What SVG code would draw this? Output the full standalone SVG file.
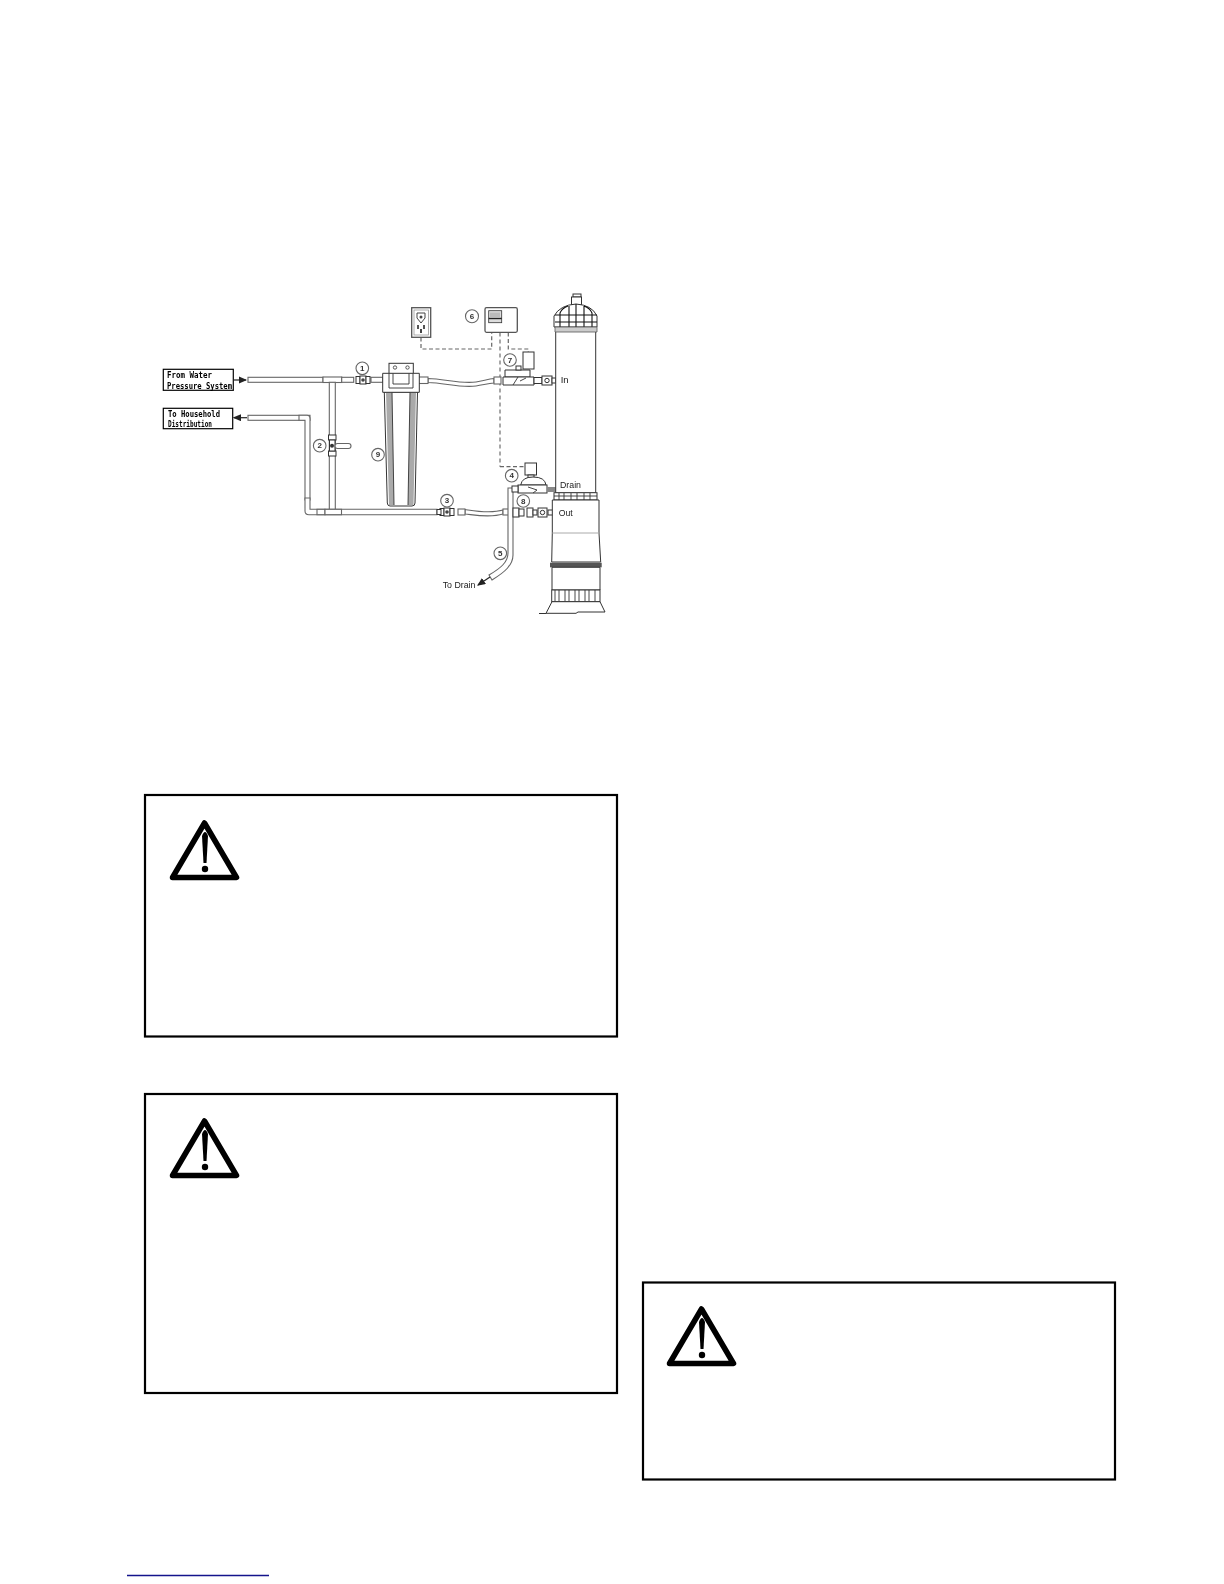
<svg xmlns="http://www.w3.org/2000/svg" xmlns:xlink="http://www.w3.org/1999/xlink" width="1224" height="1584" viewBox="0 0 1224 1584">
<style>
.p{fill:#fff;stroke:#666;stroke-width:1.1}
.d{fill:#fff;stroke:#333;stroke-width:1}
.l{fill:none;stroke:#333;stroke-width:.9}
.g{fill:#aaa;stroke:none}
.c{fill:#fff;stroke:#666;stroke-width:1.100}
.n{font:bold 8px "Liberation Sans",sans-serif;fill:#333;text-anchor:middle}
.lb{font:bold 9px "DejaVu Sans Mono",monospace;fill:#000}
.t{font:9.500px "Liberation Sans",sans-serif;fill:#222}
.dash{fill:none;stroke:#666;stroke-width:1.200;stroke-dasharray:4 2.500}
.dash2{fill:none;stroke:#999;stroke-width:1.700;stroke-dasharray:4 3}
.box{fill:#fff;stroke:#000;stroke-width:2.200}
.tri{fill:#fff;stroke:#000;stroke-width:5.500;stroke-linejoin:round}
</style>
<defs>
<filter id="soft" x="-2%" y="-2%" width="104%" height="104%"><feGaussianBlur stdDeviation="0.35"/></filter>
<marker id="ah" markerWidth="7" markerHeight="6" refX="6" refY="3" orient="auto"><path d="M0 0L7 3L0 6Z" fill="#222"/></marker>
<g id="warn">
<path class="tri" d="M204.500 823L236.500 877.500H172.500Z"/>
<path d="M202 836Q205 828 208 836L206.500 863H203.500Z" fill="#000"/>
<circle cx="205" cy="869" r="3.200" fill="#000"/>
</g>
<g id="union">
<rect class="d" x="-7" y="-3.500" width="4" height="7"/>
<rect class="d" x="-3" y="-4" width="6" height="8" fill="#ccc"/>
<circle cx="0" cy="0" r="1.800" fill="#444"/>
<rect class="d" x="3" y="-3.500" width="4" height="7"/>
</g>
</defs>
<rect width="1224" height="1584" fill="#fff"/>

<g id="diagram" filter="url(#soft)">
<g id="connectors">
<path class="dash" d="M421 337.500V349H491.700V332.500"/>
<path class="dash2" d="M500 332.500V466.700"/>
<path class="dash" d="M500 466.700H525"/>
<path class="dash" d="M508.300 332.500V349H528.300V352"/>
<path d="M234 380H246" fill="none" stroke="#222" stroke-width="1.200" marker-end="url(#ah)"/>
<path d="M247 417.700H234" fill="none" stroke="#222" stroke-width="1.200" marker-end="url(#ah)"/>
</g>

<g id="pipes">
<rect class="p" x="248" y="377.300" width="75" height="5"/>
<rect class="p" x="323" y="377" width="18.700" height="5.500"/>
<rect class="p" x="341.700" y="377.300" width="12" height="5"/>
<rect class="p" x="371" y="377.300" width="12" height="5"/>
<rect class="p" x="329.300" y="382.300" width="6" height="128"/>
<rect class="p" x="248" y="415.300" width="62" height="5"/>
<path class="p" d="M299 415.300H307Q310 415.300 310 419V500H305V420.300H299Z"/>
<path class="p" d="M305 498V511Q305 514.700 309 514.700H437V509.300H310V498Z"/>
<rect class="p" x="317" y="509.300" width="8" height="5.400"/>
<rect class="p" x="325" y="509.300" width="16.500" height="5.400"/>
<path class="p" d="M428 378.500C445 379 460 384 476 382C483 381 488 379 494 378.500V383C488 383.500 483 385 476 386C460 388 445 383 428 382.500Z"/>
<rect class="p" x="418" y="377" width="10" height="6.500"/>
<rect class="p" x="494" y="377" width="7" height="7"/>
<path class="p" d="M465 509.500C475 511 490 514 503 510V514C490 518 475 515 465 514Z"/>
<rect class="p" x="458" y="509" width="7" height="6"/>
<rect class="p" x="503" y="509" width="7" height="6"/>
<path class="p" d="M508 488H513V555C513 565 505 572 492 580L489 575C501 568 508 562 508 553Z"/>
<path d="M490 577L478 585" fill="none" stroke="#222" stroke-width="1.200" marker-end="url(#ah)"/>
</g>

<g id="valve-1"><use xlink:href="#union" x="363" y="380"/><circle class="c" cx="362.300" cy="368.300" r="6.300"/><text class="n" x="362.300" y="371">1</text></g>
<g id="valve-2">
<rect class="d" x="328.500" y="435" width="7.500" height="5"/><rect class="d" x="328.500" y="451" width="7.500" height="5"/>
<rect class="d" x="329.500" y="440" width="5.500" height="11" fill="#ccc"/>
<circle cx="332" cy="445.700" r="2" fill="#333"/>
<rect class="p" x="335" y="443.500" width="16" height="5" rx="2.500"/>
<circle class="c" cx="319.700" cy="445.700" r="6.300"/><text class="n" x="319.700" y="448.400">2</text></g>
<g id="valve-3"><use xlink:href="#union" x="447" y="512"/><rect class="d" x="437" y="509.500" width="4" height="5"/><circle class="c" cx="447" cy="500.700" r="6.300"/><text class="n" x="447" y="503.400">3</text></g>

<g id="filter-9">
<path class="d" d="M384.300 392L387.300 503Q387.500 506 390 506H412Q415 506 415 503L417.500 392Z" stroke="#555"/>
<path class="g" d="M386 392H392L394 505H389ZM410 392H416L413.500 505H408Z"/>
<path class="l" d="M392 392L394 505M410 392L408 505"/>
<rect class="d" x="389" y="363.300" width="24.300" height="11"/>
<circle cx="395" cy="367.500" r="1.700" fill="#fff" stroke="#333" stroke-width=".8"/><circle cx="407.500" cy="367.500" r="1.700" fill="#fff" stroke="#333" stroke-width=".8"/>
<path class="d" d="M382.700 373.300H419.300V392.300H382.700Z" stroke="#666"/>
<path class="l" d="M389 373.500V388H413V373.500M393 373.500V384H409V373.500"/>
<circle class="c" cx="378" cy="454.700" r="6.300"/><text class="n" x="378" y="457.400">9</text></g>

<g id="outlet">
<rect fill="#fff" stroke="#555" stroke-width="1.300" x="411.700" y="307.700" width="19" height="29.600"/>
<rect fill="none" stroke="#999" stroke-width=".8" x="414" y="310" width="14.500" height="25"/>
<path d="M417 313H425V318L421 323L417 318Z" fill="#fff" stroke="#444"/>
<circle cx="421" cy="317" r="1.500" fill="#444"/>
<rect x="417" y="325" width="2" height="4" fill="#555"/><rect x="423" y="325" width="2" height="4" fill="#555"/><rect x="420" y="329" width="2" height="4" fill="#444"/>
</g>
<g id="timer-6">
<rect x="485" y="307.700" width="32.300" height="24.600" rx="1.500" fill="#fff" stroke="#555" stroke-width="1.300"/>
<rect x="488.700" y="310.700" width="13" height="12" fill="#ddd" stroke="#333" stroke-width=".8"/>
<rect x="490" y="312.500" width="10" height="4.500" fill="#bbb"/>
<path d="M488.700 318.500H501.700" stroke="#222" stroke-width="1.400"/>
<circle class="c" cx="472" cy="316.300" r="6.500"/><text class="n" x="472" y="319">6</text></g>
<g id="valve-7">
<rect class="d" x="523" y="352" width="11" height="17"/>
<path class="d" d="M505 370H530V377H505Z" fill="#eee"/>
<path class="d" d="M503 377H534V385H503Z"/>
<path class="l" d="M513 385L518 377M520 381L526 378"/>
<rect class="d" x="516" y="366" width="5" height="4"/>
<circle class="c" cx="510" cy="360" r="6.300"/><text class="n" x="510" y="362.700">7</text>
<rect class="d" x="534" y="377.500" width="8" height="6"/>
<rect class="d" x="542" y="376" width="10" height="9" fill="#ddd"/><circle cx="547" cy="380.500" r="2.200" fill="none" stroke="#333"/>
<rect class="d" x="552" y="378" width="4" height="5"/>
</g>
<g id="valve-4">
<rect class="d" x="525" y="463" width="11.500" height="12"/>
<rect class="d" x="528" y="475" width="6" height="3"/>
<path class="d" d="M520.700 485Q522 477 533 477Q545 477 546 485Z" fill="#bbb"/>
<rect class="d" x="518" y="485" width="29" height="8"/>
<path class="l" d="M528 487L537 490L533 493"/>
<rect class="d" x="512" y="486" width="6" height="6" fill="#ccc"/>
<rect x="547" y="487" width="9" height="5" fill="#888"/>
<circle class="c" cx="511.700" cy="475.700" r="6.300"/><text class="n" x="511.700" y="478.400">4</text></g>
<g id="valve-8">
<rect class="d" x="513" y="508" width="6" height="9"/>
<rect class="d" x="519" y="509" width="5" height="7"/>
<rect class="d" x="527" y="508" width="6" height="9"/>
<rect class="d" x="533" y="510" width="4" height="5"/>
<rect class="d" x="538" y="508" width="9" height="9" fill="#ddd"/><circle cx="542.500" cy="512.500" r="2.200" fill="none" stroke="#333"/>
<rect class="d" x="548" y="510" width="5" height="5"/>
<circle class="c" cx="523.300" cy="501" r="6.300"/><text class="n" x="523.300" y="503.700">8</text></g>
<g id="hose-5"><circle class="c" cx="500.300" cy="553.300" r="6.300"/><text class="n" x="500.300" y="556">5</text></g>

<g id="cartridge">
<rect class="d" x="555.700" y="331" width="40" height="162" stroke="#333"/>
<rect class="d" x="573" y="294" width="8" height="3"/>
<rect class="d" x="571.500" y="297" width="10" height="8"/>
<path class="d" d="M554 327V316Q560 305 576 304Q592 305 597 316V327Z"/>
<path class="l" d="M555 315H597M555 322H597M560 327V313Q562 308 568 306M569 327V306M576 327V304M584 327V306M592 327V313Q590 308 584 306" style="stroke:#111;stroke-width:1.100"/>
<path d="M555 327H597V332H555Z" fill="#ccc" stroke="#555" stroke-width=".8"/>
<rect class="d" x="554" y="492.700" width="43" height="7.300" fill="#eee"/>
<path class="l" d="M554 496H597M559 493V500M564 493V500M571 493V500M577 493V500M584 493V500M590 493V500"/>
<path class="d" d="M552.300 500H599V533L600.700 562H551.700L552.300 533Z" stroke="#333"/>
<path d="M552.300 533H599" stroke="#aaa" stroke-width="1"/>
<rect x="550" y="562.700" width="51.700" height="4.600" fill="#555"/>
<path class="d" d="M552 567.300H600V590H552Z" stroke="#333"/>
<rect class="d" x="551.700" y="590" width="48.300" height="11.700"/>
<path class="l" d="M555 590V601M559 590V601M565 590V601M569 590V601M575 590V601M579 590V601M585 590V601M589 590V601M595 590V601"/>
<path class="d" d="M552 601.700H600L605 612H578L576 613.300H546Z" stroke="#333"/>
<path d="M539 613.500H546" stroke="#333"/>
</g>

<g id="label-from">
<rect x="163.300" y="369.300" width="70" height="21" fill="#fff" stroke="#000" stroke-width="1.200"/>
<text class="lb" x="167" y="378.300" textLength="45" lengthAdjust="spacingAndGlyphs">From Water</text>
<text class="lb" x="167" y="388.700" textLength="65" lengthAdjust="spacingAndGlyphs">Pressure System</text>
</g>
<g id="label-to">
<rect x="163.300" y="408.300" width="69.400" height="20.400" fill="#fff" stroke="#000" stroke-width="1.200"/>
<text class="lb" x="168" y="417.300" textLength="52" lengthAdjust="spacingAndGlyphs">To Household</text>
<text class="lb" x="168" y="427.300" textLength="44" lengthAdjust="spacingAndGlyphs">Distribution</text>
</g>
<text class="t" x="560.700" y="382.700" font-weight="bold">In</text>
<text class="t" x="560" y="488" textLength="21" lengthAdjust="spacingAndGlyphs">Drain</text>
<text class="t" x="558.700" y="516.300" textLength="14" lengthAdjust="spacingAndGlyphs">Out</text>
<text class="t" x="442.700" y="588.300" textLength="32.700" lengthAdjust="spacingAndGlyphs">To Drain</text>
</g>

<g id="warning-1"><rect class="box" x="145" y="795" width="472" height="241.500"/><use xlink:href="#warn"/></g>
<g id="warning-2"><rect class="box" x="145" y="1094" width="472" height="299"/><use xlink:href="#warn" y="298"/></g>
<g id="warning-3"><rect class="box" x="643" y="1282.500" width="472" height="197"/><use xlink:href="#warn" x="497" y="486"/></g>
<path id="link-line" d="M127 1575.500H269" stroke="#14148c" stroke-width="1.300" fill="none"/>
</svg>
